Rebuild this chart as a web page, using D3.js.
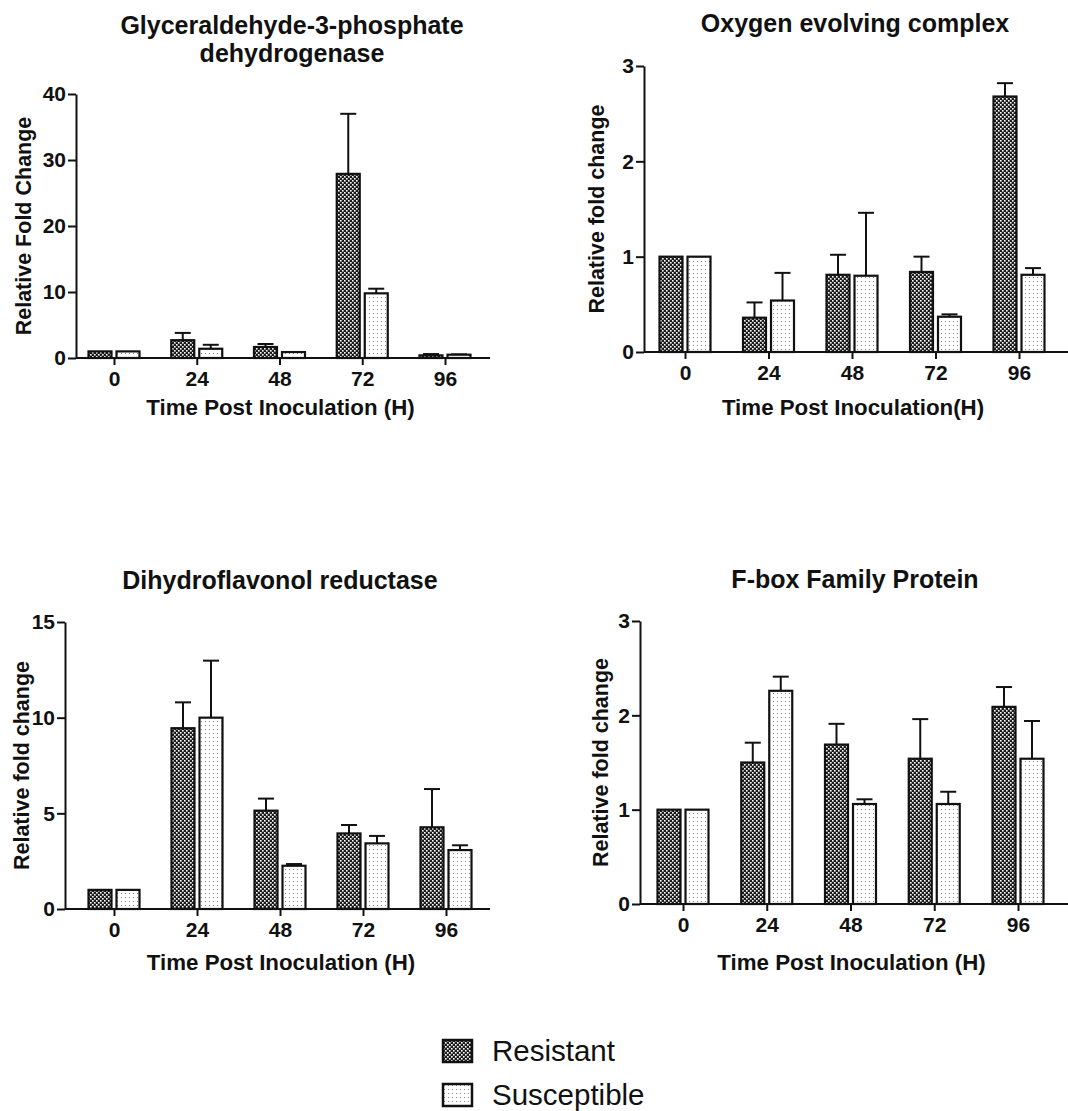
<!DOCTYPE html>
<html>
<head>
<meta charset="utf-8">
<script src="https://cdn.jsdelivr.net/npm/d3@7"></script>
<style>
  body { margin: 0; background: #fff; }
  svg { display: block; font-family: "Liberation Sans", Arial, sans-serif; }
  .axis path, .axis line { stroke: #111; stroke-width: 2; }
  .title { font-size: 25px; font-weight: bold; fill: #111; }
  .ylabel { font-size: 21.5px; font-weight: bold; fill: #111; }
  .xlabel { font-size: 22.3px; font-weight: bold; fill: #111; }
  .legend text { font-size: 29.5px; fill: #111; }
</style>
</head>
<body>
<svg id="chart" width="1068" height="1111"></svg>
<script>
const timepoints = ['0', '24', '48', '72', '96'];
const seriesNames = ['Resistant', 'Susceptible'];

// Glyceraldehyde-3-phosphate dehydrogenase
const gapdhResistant = [1, 2.7, 1.67, 27.9, 0.4];
const gapdhResistantSD = [0, 1.1, 0.45, 9.1, 0.2];
const gapdhSusceptible = [1, 1.4, 0.9, 9.8, 0.5];
const gapdhSusceptibleSD = [0, 0.6, 0, 0.7, 0.05];
const gapdhTicks = [0, 10, 20, 30, 40];

// Oxygen evolving complex
const oecResistant = [1, 0.36, 0.81, 0.84, 2.68];
const oecResistantSD = [0, 0.16, 0.21, 0.16, 0.14];
const oecSusceptible = [1, 0.54, 0.80, 0.37, 0.81];
const oecSusceptibleSD = [0, 0.29, 0.66, 0.025, 0.07];
const oecTicks = [0, 1, 2, 3];

// Dihydroflavonol reductase
const dfrResistant = [1, 9.45, 5.14, 3.95, 4.27];
const dfrResistantSD = [0, 1.35, 0.63, 0.44, 2.0];
const dfrSusceptible = [1, 10.0, 2.26, 3.43, 3.08];
const dfrSusceptibleSD = [0, 2.98, 0.09, 0.39, 0.25];
const dfrTicks = [0, 5, 10, 15];

// F-box family protein
const fboxResistant = [1, 1.50, 1.69, 1.54, 2.09];
const fboxResistantSD = [0, 0.21, 0.22, 0.42, 0.21];
const fboxSusceptible = [1, 2.26, 1.06, 1.06, 1.54];
const fboxSusceptibleSD = [0, 0.15, 0.05, 0.13, 0.40];
const fboxTicks = [0, 1, 2, 3];

const panels = [
  {title: ['Glyceraldehyde-3-phosphate', 'dehydrogenase'], ylabel: 'Relative Fold Change',
   xlabel: 'Time Post Inoculation (H)',
   values: [gapdhResistant, gapdhSusceptible], sd: [gapdhResistantSD, gapdhSusceptibleSD], ticks: gapdhTicks,
   ax: 76, y0: 358, y1: 94, c0: 114, c1: 445, xEnd: 490, titleY: 25, titleX: 292, ylX: 23, xlY: 407},
  {title: ['Oxygen evolving complex'], ylabel: 'Relative fold change',
   xlabel: 'Time Post Inoculation(H)',
   values: [oecResistant, oecSusceptible], sd: [oecResistantSD, oecSusceptibleSD], ticks: oecTicks,
   ax: 644, y0: 352, y1: 66, c0: 685, c1: 1019, xEnd: 1068, titleY: 23, titleX: 855, ylX: 596, xlY: 407},
  {title: ['Dihydroflavonol reductase'], ylabel: 'Relative fold change',
   xlabel: 'Time Post Inoculation (H)',
   values: [dfrResistant, dfrSusceptible], sd: [dfrResistantSD, dfrSusceptibleSD], ticks: dfrTicks,
   ax: 65, y0: 909, y1: 622, c0: 114, c1: 446, xEnd: 490, titleY: 580, titleX: 280, ylX: 21, xlY: 962},
  {title: ['F-box Family Protein'], ylabel: 'Relative fold change',
   xlabel: 'Time Post Inoculation (H)',
   values: [fboxResistant, fboxSusceptible], sd: [fboxResistantSD, fboxSusceptibleSD], ticks: fboxTicks,
   ax: 640, y0: 904, y1: 621, c0: 683, c1: 1018, xEnd: 1068, titleY: 579, titleX: 855, ylX: 600, xlY: 962}
];

const svg = d3.select('#chart');
const defs = svg.append('defs');

// Resistant: dark checker, Susceptible: sparse dots
const pr = defs.append('pattern').attr('id', 'pat-res')
  .attr('patternUnits', 'userSpaceOnUse').attr('width', 4).attr('height', 4);
pr.append('rect').attr('width', 4).attr('height', 4).attr('fill', '#1c1c1c');
pr.append('rect').attr('x', 0).attr('y', 0).attr('width', 1.6).attr('height', 1.6).attr('fill', '#fff');
pr.append('rect').attr('x', 2).attr('y', 2).attr('width', 1.6).attr('height', 1.6).attr('fill', '#fff');
const ps = defs.append('pattern').attr('id', 'pat-sus')
  .attr('patternUnits', 'userSpaceOnUse').attr('width', 4).attr('height', 4);
ps.append('rect').attr('width', 4).attr('height', 4).attr('fill', '#fff');
ps.append('rect').attr('x', 1).attr('y', 1).attr('width', 1).attr('height', 1).attr('fill', '#888');
const fills = ['url(#pat-res)', 'url(#pat-sus)'];

const barW = 23, barGap = 5, capW = 16;

function styleTicks(sel) {
  sel.attr('font-family', '"Liberation Sans", Arial, sans-serif')
    .attr('font-size', 21)
    .attr('font-weight', 'bold');
  sel.selectAll('text').attr('fill', '#111');
}

panels.forEach(p => {
  const g = svg.append('g');
  const x = d3.scalePoint().domain(timepoints).range([p.c0, p.c1]);
  const y = d3.scaleLinear().domain([0, d3.max(p.ticks)]).range([p.y0, p.y1]);
  const sub = d3.scaleOrdinal().domain(seriesNames)
    .range([-(barGap / 2 + barW), barGap / 2]);

  const rows = [];
  seriesNames.forEach((s, si) => {
    timepoints.forEach((t, ti) => {
      rows.push({s, si, t, v: p.values[si][ti], sd: p.sd[si][ti]});
    });
  });

  // error bars (upper only)
  const eb = g.append('g').selectAll('g')
    .data(rows.filter(d => d.sd > 0))
    .enter().append('g')
    .attr('stroke', '#111').attr('stroke-width', 2);
  eb.append('line')
    .attr('x1', d => x(d.t) + sub(d.s) + barW / 2)
    .attr('x2', d => x(d.t) + sub(d.s) + barW / 2)
    .attr('y1', d => y(d.v)).attr('y2', d => y(d.v + d.sd));
  eb.append('line')
    .attr('x1', d => x(d.t) + sub(d.s) + barW / 2 - capW / 2)
    .attr('x2', d => x(d.t) + sub(d.s) + barW / 2 + capW / 2)
    .attr('y1', d => y(d.v + d.sd)).attr('y2', d => y(d.v + d.sd));

  // bars
  g.append('g').selectAll('rect')
    .data(rows)
    .enter().append('rect')
    .attr('x', d => x(d.t) + sub(d.s))
    .attr('y', d => y(d.v))
    .attr('width', barW)
    .attr('height', d => y(0) - y(d.v))
    .attr('fill', d => fills[d.si])
    .attr('stroke', '#111')
    .attr('stroke-width', 2.2);

  // axes
  g.append('g')
    .attr('class', 'axis')
    .attr('transform', `translate(${p.ax},0)`)
    .call(d3.axisLeft(y).tickValues(p.ticks).tickSize(8).tickSizeOuter(0).tickPadding(2)
      .tickFormat(d3.format('d')))
    .call(styleTicks);
  g.append('line')
    .attr('x1', p.ax).attr('x2', p.xEnd)
    .attr('y1', p.y0).attr('y2', p.y0)
    .attr('stroke', '#111').attr('stroke-width', 2);
  const xa = g.append('g')
    .attr('class', 'axis')
    .attr('transform', `translate(0,${p.y0})`)
    .call(d3.axisBottom(x).tickSize(7).tickPadding(6))
    .call(styleTicks);
  xa.select('.domain').remove();

  // titles
  const tt = g.append('text').attr('class', 'title')
    .attr('text-anchor', 'middle')
    .attr('x', p.titleX).attr('y', p.titleY);
  p.title.forEach((line, i) => {
    tt.append('tspan').attr('x', p.titleX).attr('dy', i === 0 ? '0.35em' : '1.12em').text(line);
  });
  g.append('text').attr('class', 'ylabel')
    .attr('text-anchor', 'middle')
    .attr('transform', `translate(${p.ylX},${(p.y0 + p.y1) / 2}) rotate(-90)`)
    .attr('dy', '0.35em')
    .text(p.ylabel);
  g.append('text').attr('class', 'xlabel')
    .attr('text-anchor', 'middle')
    .attr('x', (p.c0 + p.c1) / 2 + 1).attr('y', p.xlY).attr('dy', '0.35em')
    .text(p.xlabel);
});

// Legend
const legend = svg.append('g').attr('class', 'legend')
  .selectAll('g')
  .data(seriesNames)
  .enter().append('g')
  .attr('transform', (_, i) => `translate(443,${1040 + i * 44})`);
legend.append('rect')
  .attr('width', 29).attr('height', 22)
  .attr('fill', (_, i) => fills[i])
  .attr('stroke', '#111').attr('stroke-width', 2.5);
legend.append('text')
  .attr('x', 49).attr('y', 11).attr('dy', '0.35em')
  .text(d => d);
</script>
</body>
</html>
